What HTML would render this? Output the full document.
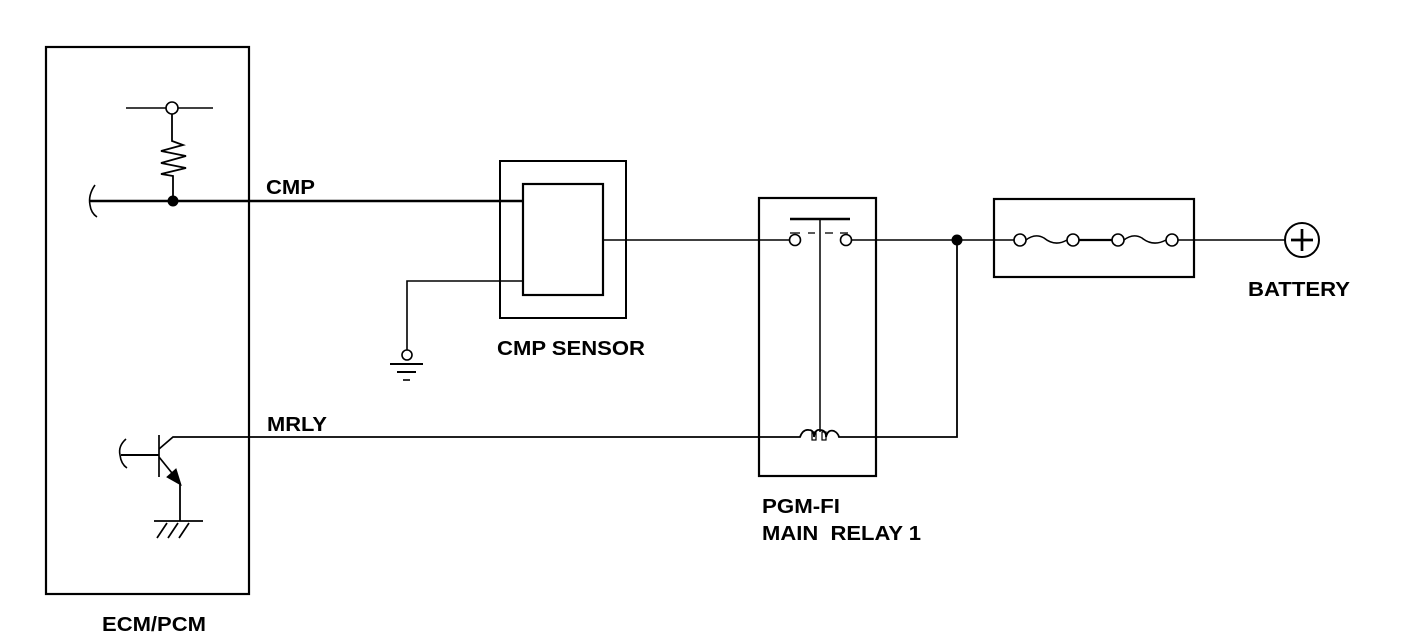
<!DOCTYPE html>
<html><head><meta charset="utf-8"><style>
html,body{margin:0;padding:0;background:#fff;}
svg{display:block;}
text{font-family:"Liberation Sans",Arial,sans-serif;font-weight:bold;font-size:20px;fill:#000;}
</style></head><body>
<svg width="1408" height="642" viewBox="0 0 1408 642" xmlns="http://www.w3.org/2000/svg" fill="none" stroke="#000">
<rect x="46" y="47" width="203" height="547" stroke-width="2.2"/>
<line x1="126" y1="108" x2="213" y2="108" stroke-width="1.5"/>
<circle cx="172" cy="108" r="6" fill="#fff" stroke-width="1.6"/>
<polyline points="172,114 172,141 183,145 161,151 186,156 161,163 186,168 161,174 173,176 173,201" stroke-width="1.8"/>
<path d="M95,185 Q88,195 90,205 Q91,213 97,217" stroke-width="1.6"/>
<line x1="90" y1="201" x2="523" y2="201" stroke-width="2.4"/>
<circle cx="173" cy="201" r="5.5" fill="#000" stroke="none"/>
<rect x="500" y="161" width="126" height="157" stroke-width="2"/>
<rect x="523" y="184" width="80" height="111" stroke-width="2.2"/>
<polyline points="523,281 407,281 407,350" stroke-width="1.6"/>
<circle cx="407" cy="355" r="5" fill="#fff" stroke-width="1.6"/>
<line x1="390" y1="364" x2="423" y2="364" stroke-width="2"/>
<line x1="397" y1="372" x2="416" y2="372" stroke-width="2"/>
<line x1="403" y1="380" x2="410" y2="380" stroke-width="1.6"/>
<line x1="603" y1="240" x2="789" y2="240" stroke-width="1.4"/>
<line x1="852" y1="240" x2="1014" y2="240" stroke-width="1.4"/>
<rect x="759" y="198" width="117" height="278" stroke-width="2.2"/>
<line x1="790" y1="219" x2="850" y2="219" stroke-width="2.4"/>
<line x1="820" y1="219" x2="820" y2="432" stroke-width="1.5"/>
<line x1="790" y1="233" x2="800" y2="233" stroke-width="1.3"/>
<line x1="808" y1="233" x2="815" y2="233" stroke-width="1.3"/>
<line x1="825" y1="233" x2="833" y2="233" stroke-width="1.3"/>
<line x1="840" y1="233" x2="848" y2="233" stroke-width="1.3"/>
<circle cx="795" cy="240" r="5.5" fill="#fff" stroke-width="1.6"/>
<circle cx="846" cy="240" r="5.5" fill="#fff" stroke-width="1.6"/>
<path d="M175,437 L800,437 Q803,429 809,430 Q814,430 814,437 Q815,429 820,430 Q826,430 826,437 Q828,429 834,431 Q838,433 839,437 L957,437 L957,240" stroke-width="1.8"/>
<rect x="812" y="432" width="4" height="8" stroke-width="1.2"/>
<rect x="822" y="432" width="4" height="8" stroke-width="1.2"/>
<circle cx="957" cy="240" r="5.5" fill="#000" stroke="none"/>
<rect x="994" y="199" width="200" height="78" stroke-width="2.2"/>
<path d="M1026,240 Q1035,233 1044,238 Q1055,247 1067,240" stroke-width="1.5"/>
<line x1="1079" y1="240" x2="1112" y2="240" stroke-width="2.2"/>
<path d="M1124,240 Q1133,233 1142,238 Q1153,247 1166,240" stroke-width="1.5"/>
<circle cx="1020" cy="240" r="6" fill="#fff" stroke-width="1.6"/>
<circle cx="1073" cy="240" r="6" fill="#fff" stroke-width="1.6"/>
<circle cx="1118" cy="240" r="6" fill="#fff" stroke-width="1.6"/>
<circle cx="1172" cy="240" r="6" fill="#fff" stroke-width="1.6"/>
<line x1="1178" y1="240" x2="1285" y2="240" stroke-width="1.4"/>
<circle cx="1302" cy="240" r="17" stroke-width="2"/>
<line x1="1291" y1="240" x2="1313" y2="240" stroke-width="2.7"/>
<line x1="1302" y1="229" x2="1302" y2="251" stroke-width="2.7"/>
<path d="M126,439 Q118,446 120,455 Q121,464 127,468" stroke-width="1.6"/>
<line x1="121" y1="455" x2="159" y2="455" stroke-width="2"/>
<line x1="159" y1="435" x2="159" y2="477" stroke-width="1.7"/>
<polyline points="159,449 173,437 175,437" stroke-width="1.7"/>
<line x1="159" y1="457" x2="176" y2="478" stroke-width="1.7"/>
<polygon points="181,485 167,477 176,469" fill="#000" stroke-width="1"/>
<line x1="180" y1="483" x2="180" y2="521" stroke-width="1.8"/>
<line x1="154" y1="521" x2="203" y2="521" stroke-width="1.7"/>
<line x1="167" y1="523" x2="157" y2="538" stroke-width="1.7"/>
<line x1="178" y1="523" x2="168" y2="538" stroke-width="1.7"/>
<line x1="189" y1="523" x2="179" y2="538" stroke-width="1.7"/>
<g stroke="none">
<text x="266" y="194" textLength="49" lengthAdjust="spacingAndGlyphs">CMP</text>
<text x="267" y="431" textLength="60" lengthAdjust="spacingAndGlyphs">MRLY</text>
<text x="497" y="355" textLength="148" lengthAdjust="spacingAndGlyphs">CMP SENSOR</text>
<text x="1248" y="296" textLength="102" lengthAdjust="spacingAndGlyphs">BATTERY</text>
<text x="762" y="513" textLength="78" lengthAdjust="spacingAndGlyphs">PGM-FI</text>
<text x="762" y="540" xml:space="preserve" textLength="159" lengthAdjust="spacingAndGlyphs">MAIN  RELAY 1</text>
<text x="102" y="631" textLength="104" lengthAdjust="spacingAndGlyphs">ECM/PCM</text>
</g>
</svg>
</body></html>
